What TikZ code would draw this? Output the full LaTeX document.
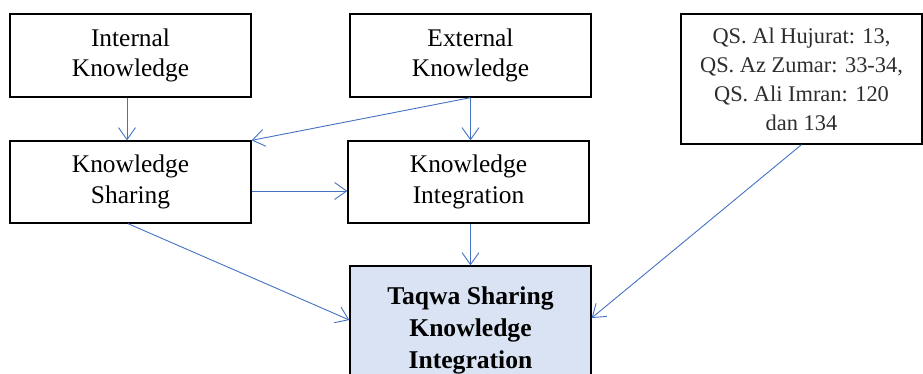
\documentclass[tikz,border=0pt]{standalone}
\usepackage{fontspec}
\setmainfont{Liberation Serif}
\usetikzlibrary{arrows.meta,calc}
\definecolor{arrowblue}{RGB}{68,114,196}
\definecolor{tqfill}{RGB}{218,227,243}
\definecolor{qstext}{RGB}{45,45,45}
\tikzset{
  box/.style={draw=black, line width=1.3pt, minimum width=241pt, inner sep=0pt, align=center,
    font=\fontsize{25.4}{30.5}\selectfont},
  arr/.style={draw=arrowblue, line width=0.9pt, -{Straight Barb[length=12pt,width=17pt,line width=0.9pt]}}
}
\begin{document}
\begin{tikzpicture}[x=1pt,y=-1pt]
\clip (0,0) rectangle (923,373);
\fill[white] (0,0) rectangle (923,373);
\node[box, minimum height=83pt] (int) at (130.5,55.5) {Internal\\Knowledge};
\node[box, minimum height=83pt] (ext) at (470.5,55.5) {External\\Knowledge};
\node[box, minimum height=82pt] (sha) at (130.5,182) {Knowledge\\Sharing};
\node[box, minimum height=82pt] (ki) at (468.5,182) {Knowledge\\Integration};
\node[box, minimum height=130pt, text=qstext, font=\fontsize{22.4}{29}\selectfont] (qs) at (801.5,79)
  {QS. Al Hujurat: 13,\\QS. Az Zumar: 33-34,\\QS. Ali Imran: 120\\dan 134};
\node[box, minimum height=128pt, fill=tqfill, font=\fontsize{25.6}{32}\selectfont\bfseries] (tq) at (470.5,330)
  {Taqwa Sharing\\Knowledge\\Integration};
\draw[arr] ([xshift=-3.5pt]int.south) -- ([xshift=-3.5pt]sha.north);
\draw[arr] (ext.south) -- (ext.south |- ki.north);
\draw[arr] (ext.south) -- (sha.north east);
\draw[arr] ($(sha.east)+(0,9)$) -- ($(ki.west)+(0,9)$);
\draw[arr] ([xshift=-2.5pt]sha.south) -- ($(tq.west)+(0,-10)$);
\draw[arr] (tq.north |- ki.south) -- (tq.north);
\draw[arr] (qs.south) -- ($(tq.east)+(0,-12)$);
\end{tikzpicture}
\end{document}
